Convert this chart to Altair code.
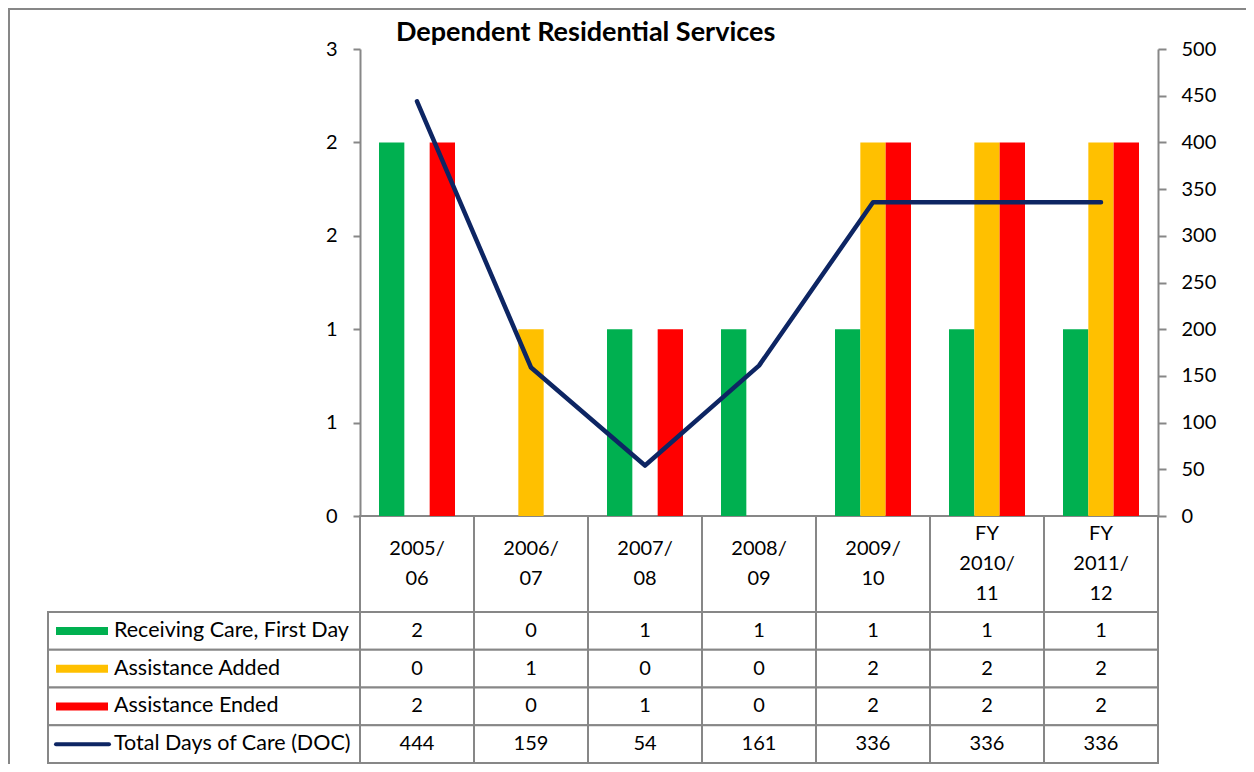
import altair as alt
import pandas as pd

# ---------------- data ----------------
categories = ["2005/06", "2006/07", "2007/08", "2008/09", "2009/10", "FY 2010/11", "FY 2011/12"]
category_labels = ["2005/\n06", "2006/\n07", "2007/\n08", "2008/\n09", "2009/\n10",
                   "FY\n2010/\n11", "FY\n2011/\n12"]
series_names = ["Receiving Care, First Day", "Assistance Added", "Assistance Ended",
                "Total Days of Care (DOC)"]
bar_series = series_names[:3]
receiving_care = [2, 0, 1, 1, 1, 1, 1]
assistance_added = [0, 1, 0, 0, 2, 2, 2]
assistance_ended = [2, 0, 1, 0, 2, 2, 2]
total_doc = [444, 159, 54, 161, 336, 336, 336]
left_ticks = [0, 0.5, 1, 1.5, 2, 2.5]
right_ticks = [0, 50, 100, 150, 200, 250, 300, 350, 400, 450, 500]
series_colors = ["#00B050", "#FFC000", "#FF0000", "#0D2563"]
title_text = "Dependent Residential Services"

# ---------------- tables ----------------
bar_values = [receiving_care, assistance_added, assistance_ended]
bars_df = pd.DataFrame([
    {"cat": c, "series": s, "value": v}
    for s, vals in zip(bar_series, bar_values) for c, v in zip(categories, vals)
])
line_df = pd.DataFrame({"cat": categories, "doc": total_doc})
header_df = pd.DataFrame({"cat": categories, "section": "header"})
header_lines_df = pd.DataFrame([
    {"cat": c, "line": part, "k": k, "n": len(lab.split("\n"))}
    for c, lab in zip(categories, category_labels)
    for k, part in enumerate(lab.split("\n"))
])
all_values = bar_values + [total_doc]
table_df = pd.DataFrame([
    {"row": s, "cat": c, "text": str(v)}
    for s, vals in zip(series_names, all_values) for c, v in zip(categories, vals)
])
legend_df = pd.DataFrame({"row": series_names, "series": series_names,
                          "kind": ["bar", "bar", "bar", "line"]})

# ---------------- layout ----------------
W, H = 1238, 756
PL, PR, PT, PB = 352, 1150, 41, 508
ROW_TOP, ROW_BOT = 604, 755
HDR_MID = 556
LINE_H = 30
LEG_L = 40
GRID = "#878787"
FONT = "Lato"
FS = 20
FS_LBL = 21.5

x_scale = alt.Scale(domain=categories, range=[PL, PR], paddingInner=0, paddingOuter=0)
color_scale = alt.Scale(domain=series_names, range=series_colors)
row_scale = alt.Scale(domain=series_names, range=[ROW_TOP, ROW_BOT], paddingInner=0, paddingOuter=0)
hdr_scale = alt.Scale(domain=["header"], range=[PB, ROW_TOP], paddingInner=0, paddingOuter=0)
hdr_line_scale = alt.Scale(domain=[-1, 1], range=[HDR_MID - LINE_H, HDR_MID + LINE_H])

X = alt.X("cat:N", scale=x_scale, sort=categories, axis=None)

frame_top = alt.Chart(line_df).mark_rule(color=GRID, strokeWidth=2).encode(
    x=alt.value(0), x2=alt.value(W), y=alt.value(1))
frame_left = alt.Chart(line_df).mark_rule(color=GRID, strokeWidth=2).encode(
    x=alt.value(1), y=alt.value(0), y2=alt.value(H))

header_cells = alt.Chart(header_df).mark_rect(fill="white", stroke=GRID, strokeWidth=2).encode(
    x=X, y=alt.Y("section:N", scale=hdr_scale, axis=None))
header_text = alt.Chart(header_lines_df).transform_calculate(
    pos="datum.k - (datum.n - 1) / 2"
).mark_text(fontSize=FS, font=FONT, color="black", baseline="middle").encode(
    x=X, y=alt.Y("pos:Q", scale=hdr_line_scale, axis=None), text="line:N")

row_cells = alt.Chart(table_df).mark_rect(fill="white", stroke=GRID, strokeWidth=2).encode(
    x=X, y=alt.Y("row:N", scale=row_scale, axis=None))
row_text = alt.Chart(table_df).mark_text(
    fontSize=FS, font=FONT, color="black", baseline="middle"
).encode(x=X, y=alt.Y("row:N", scale=row_scale, axis=None), text="text:N")

legend_cells = alt.Chart(legend_df).mark_rect(fill="white", stroke=GRID, strokeWidth=2).encode(
    x=alt.value(LEG_L), x2=alt.value(PL), y=alt.Y("row:N", scale=row_scale, axis=None))
legend_text = alt.Chart(legend_df).mark_text(
    fontSize=FS_LBL, font=FONT, color="black", align="left", baseline="middle"
).encode(x=alt.value(106), y=alt.Y("row:N", scale=row_scale, axis=None), text="row:N")
legend_bar_swatch = alt.Chart(legend_df).transform_filter("datum.kind == 'bar'").mark_rule(
    strokeWidth=8).encode(
    x=alt.value(48), x2=alt.value(100), y=alt.Y("row:N", scale=row_scale, axis=None),
    color=alt.Color("series:N", scale=color_scale, legend=None))
legend_line_swatch = alt.Chart(legend_df).transform_filter("datum.kind == 'line'").mark_rule(
    strokeWidth=4, strokeCap="round").encode(
    x=alt.value(48), x2=alt.value(101), y=alt.Y("row:N", scale=row_scale, axis=None),
    color=alt.Color("series:N", scale=color_scale, legend=None))

bars = alt.Chart(bars_df).mark_bar().encode(
    x=X,
    xOffset=alt.XOffset("series:N", sort=bar_series,
                        scale=alt.Scale(domain=bar_series, paddingInner=0, paddingOuter=0.75)),
    y=alt.Y("value:Q", scale=alt.Scale(domain=[0, 2.5], range=[PB, PT]),
            axis=alt.Axis(orient="left", offset=-PL, values=left_ticks, format=".0f",
                          title=None, grid=False, tickSize=7, tickColor=GRID, tickWidth=2,
                          domainColor=GRID, domainWidth=2, labelFont=FONT, labelFontSize=FS,
                          labelColor="black", labelPadding=16)),
    color=alt.Color("series:N", scale=color_scale, legend=None),
)

line = alt.Chart(line_df).mark_line(
    color=series_colors[3], strokeWidth=4.5, strokeCap="round", strokeJoin="round"
).encode(
    x=X,
    y=alt.Y("doc:Q", scale=alt.Scale(domain=[0, 500], range=[PB, PT]),
            axis=alt.Axis(orient="right", offset=-(W - PR), values=right_ticks, format="d",
                          title=None, grid=False, tickSize=8, tickColor=GRID, tickWidth=2,
                          domainColor=GRID, domainWidth=2, labelFont=FONT, labelFontSize=FS,
                          labelColor="black", labelPadding=15)),
)

chart = alt.layer(
    frame_top, frame_left, header_cells, row_cells, legend_cells,
    bars, line, header_text, row_text, legend_bar_swatch, legend_line_swatch, legend_text
).resolve_scale(y="independent").properties(
    width=W, height=H,
    autosize=alt.AutoSizeParams(type="none"),
    padding=0,
    title=alt.Title(title_text, anchor="start", dx=389, offset=-53, baseline="middle",
                    fontSize=27, fontWeight="bold", font=FONT, color="black"),
).configure_view(strokeWidth=0)

chart.save("out.html", embed_options={"renderer": "svg", "actions": False})
